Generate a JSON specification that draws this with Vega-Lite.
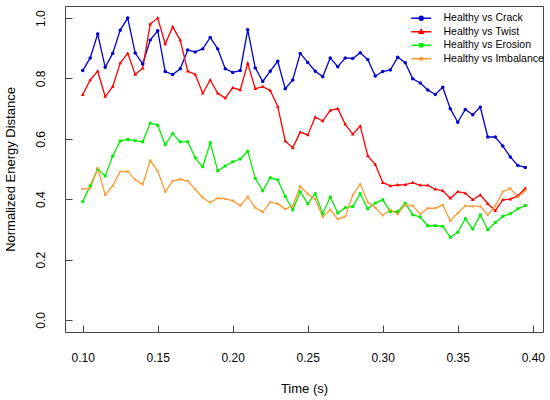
{
  "$schema": "https://vega.github.io/schema/vega-lite/v6.json",
  "width": 478,
  "height": 326,
  "autosize": {"type": "none"},
  "padding": {"left": 65, "top": 6, "right": 7, "bottom": 68},
  "data": {"values": [
    {"t":0.1,"s":"Healthy vs Crack","v":0.826},{"t":0.105,"s":"Healthy vs Crack","v":0.868},{"t":0.11,"s":"Healthy vs Crack","v":0.947},{"t":0.115,"s":"Healthy vs Crack","v":0.837},{"t":0.12,"s":"Healthy vs Crack","v":0.883},{"t":0.125,"s":"Healthy vs Crack","v":0.960},{"t":0.13,"s":"Healthy vs Crack","v":1.000},{"t":0.135,"s":"Healthy vs Crack","v":0.884},{"t":0.14,"s":"Healthy vs Crack","v":0.848},{"t":0.145,"s":"Healthy vs Crack","v":0.927},
    {"t":0.15,"s":"Healthy vs Crack","v":0.958},{"t":0.155,"s":"Healthy vs Crack","v":0.823},{"t":0.16,"s":"Healthy vs Crack","v":0.813},{"t":0.165,"s":"Healthy vs Crack","v":0.832},{"t":0.17,"s":"Healthy vs Crack","v":0.894},{"t":0.175,"s":"Healthy vs Crack","v":0.888},{"t":0.18,"s":"Healthy vs Crack","v":0.898},{"t":0.185,"s":"Healthy vs Crack","v":0.936},{"t":0.19,"s":"Healthy vs Crack","v":0.898},{"t":0.195,"s":"Healthy vs Crack","v":0.832},
    {"t":0.2,"s":"Healthy vs Crack","v":0.820},{"t":0.205,"s":"Healthy vs Crack","v":0.826},{"t":0.21,"s":"Healthy vs Crack","v":0.961},{"t":0.215,"s":"Healthy vs Crack","v":0.835},{"t":0.22,"s":"Healthy vs Crack","v":0.790},{"t":0.225,"s":"Healthy vs Crack","v":0.824},{"t":0.23,"s":"Healthy vs Crack","v":0.857},{"t":0.235,"s":"Healthy vs Crack","v":0.766},{"t":0.24,"s":"Healthy vs Crack","v":0.795},{"t":0.245,"s":"Healthy vs Crack","v":0.883},
    {"t":0.25,"s":"Healthy vs Crack","v":0.853},{"t":0.255,"s":"Healthy vs Crack","v":0.824},{"t":0.26,"s":"Healthy vs Crack","v":0.806},{"t":0.265,"s":"Healthy vs Crack","v":0.868},{"t":0.27,"s":"Healthy vs Crack","v":0.839},{"t":0.275,"s":"Healthy vs Crack","v":0.868},{"t":0.28,"s":"Healthy vs Crack","v":0.866},{"t":0.285,"s":"Healthy vs Crack","v":0.885},{"t":0.29,"s":"Healthy vs Crack","v":0.863},{"t":0.295,"s":"Healthy vs Crack","v":0.808},
    {"t":0.3,"s":"Healthy vs Crack","v":0.823},{"t":0.305,"s":"Healthy vs Crack","v":0.828},{"t":0.31,"s":"Healthy vs Crack","v":0.870},{"t":0.315,"s":"Healthy vs Crack","v":0.852},{"t":0.32,"s":"Healthy vs Crack","v":0.799},{"t":0.325,"s":"Healthy vs Crack","v":0.785},{"t":0.33,"s":"Healthy vs Crack","v":0.762},{"t":0.335,"s":"Healthy vs Crack","v":0.747},{"t":0.34,"s":"Healthy vs Crack","v":0.771},{"t":0.345,"s":"Healthy vs Crack","v":0.700},
    {"t":0.35,"s":"Healthy vs Crack","v":0.655},{"t":0.355,"s":"Healthy vs Crack","v":0.697},{"t":0.36,"s":"Healthy vs Crack","v":0.680},{"t":0.365,"s":"Healthy vs Crack","v":0.705},{"t":0.37,"s":"Healthy vs Crack","v":0.606},{"t":0.375,"s":"Healthy vs Crack","v":0.606},{"t":0.38,"s":"Healthy vs Crack","v":0.576},{"t":0.385,"s":"Healthy vs Crack","v":0.540},{"t":0.39,"s":"Healthy vs Crack","v":0.512},{"t":0.395,"s":"Healthy vs Crack","v":0.505},

    {"t":0.1,"s":"Healthy vs Twist","v":0.746},{"t":0.105,"s":"Healthy vs Twist","v":0.795},{"t":0.11,"s":"Healthy vs Twist","v":0.824},{"t":0.115,"s":"Healthy vs Twist","v":0.740},{"t":0.12,"s":"Healthy vs Twist","v":0.773},{"t":0.125,"s":"Healthy vs Twist","v":0.851},{"t":0.13,"s":"Healthy vs Twist","v":0.883},{"t":0.135,"s":"Healthy vs Twist","v":0.813},{"t":0.14,"s":"Healthy vs Twist","v":0.834},{"t":0.145,"s":"Healthy vs Twist","v":0.980},
    {"t":0.15,"s":"Healthy vs Twist","v":1.000},{"t":0.155,"s":"Healthy vs Twist","v":0.914},{"t":0.16,"s":"Healthy vs Twist","v":0.971},{"t":0.165,"s":"Healthy vs Twist","v":0.927},{"t":0.17,"s":"Healthy vs Twist","v":0.824},{"t":0.175,"s":"Healthy vs Twist","v":0.813},{"t":0.18,"s":"Healthy vs Twist","v":0.751},{"t":0.185,"s":"Healthy vs Twist","v":0.795},{"t":0.19,"s":"Healthy vs Twist","v":0.751},{"t":0.195,"s":"Healthy vs Twist","v":0.735},
    {"t":0.2,"s":"Healthy vs Twist","v":0.769},{"t":0.205,"s":"Healthy vs Twist","v":0.762},{"t":0.21,"s":"Healthy vs Twist","v":0.850},{"t":0.215,"s":"Healthy vs Twist","v":0.766},{"t":0.22,"s":"Healthy vs Twist","v":0.773},{"t":0.225,"s":"Healthy vs Twist","v":0.760},{"t":0.23,"s":"Healthy vs Twist","v":0.707},{"t":0.235,"s":"Healthy vs Twist","v":0.593},{"t":0.24,"s":"Healthy vs Twist","v":0.570},{"t":0.245,"s":"Healthy vs Twist","v":0.622},
    {"t":0.25,"s":"Healthy vs Twist","v":0.613},{"t":0.255,"s":"Healthy vs Twist","v":0.672},{"t":0.26,"s":"Healthy vs Twist","v":0.659},{"t":0.265,"s":"Healthy vs Twist","v":0.694},{"t":0.27,"s":"Healthy vs Twist","v":0.700},{"t":0.275,"s":"Healthy vs Twist","v":0.648},{"t":0.28,"s":"Healthy vs Twist","v":0.615},{"t":0.285,"s":"Healthy vs Twist","v":0.642},{"t":0.29,"s":"Healthy vs Twist","v":0.544},{"t":0.295,"s":"Healthy vs Twist","v":0.515},
    {"t":0.3,"s":"Healthy vs Twist","v":0.455},{"t":0.305,"s":"Healthy vs Twist","v":0.444},{"t":0.31,"s":"Healthy vs Twist","v":0.447},{"t":0.315,"s":"Healthy vs Twist","v":0.448},{"t":0.32,"s":"Healthy vs Twist","v":0.455},{"t":0.325,"s":"Healthy vs Twist","v":0.446},{"t":0.33,"s":"Healthy vs Twist","v":0.446},{"t":0.335,"s":"Healthy vs Twist","v":0.433},{"t":0.34,"s":"Healthy vs Twist","v":0.428},{"t":0.345,"s":"Healthy vs Twist","v":0.403},
    {"t":0.35,"s":"Healthy vs Twist","v":0.425},{"t":0.355,"s":"Healthy vs Twist","v":0.420},{"t":0.36,"s":"Healthy vs Twist","v":0.398},{"t":0.365,"s":"Healthy vs Twist","v":0.414},{"t":0.37,"s":"Healthy vs Twist","v":0.385},{"t":0.375,"s":"Healthy vs Twist","v":0.362},{"t":0.38,"s":"Healthy vs Twist","v":0.398},{"t":0.385,"s":"Healthy vs Twist","v":0.400},{"t":0.39,"s":"Healthy vs Twist","v":0.411},{"t":0.395,"s":"Healthy vs Twist","v":0.436},

    {"t":0.1,"s":"Healthy vs Erosion","v":0.392},{"t":0.105,"s":"Healthy vs Erosion","v":0.445},{"t":0.11,"s":"Healthy vs Erosion","v":0.500},{"t":0.115,"s":"Healthy vs Erosion","v":0.477},{"t":0.12,"s":"Healthy vs Erosion","v":0.543},{"t":0.125,"s":"Healthy vs Erosion","v":0.593},{"t":0.13,"s":"Healthy vs Erosion","v":0.598},{"t":0.135,"s":"Healthy vs Erosion","v":0.594},{"t":0.14,"s":"Healthy vs Erosion","v":0.590},{"t":0.145,"s":"Healthy vs Erosion","v":0.652},
    {"t":0.15,"s":"Healthy vs Erosion","v":0.645},{"t":0.155,"s":"Healthy vs Erosion","v":0.581},{"t":0.16,"s":"Healthy vs Erosion","v":0.617},{"t":0.165,"s":"Healthy vs Erosion","v":0.590},{"t":0.17,"s":"Healthy vs Erosion","v":0.590},{"t":0.175,"s":"Healthy vs Erosion","v":0.537},{"t":0.18,"s":"Healthy vs Erosion","v":0.507},{"t":0.185,"s":"Healthy vs Erosion","v":0.587},{"t":0.19,"s":"Healthy vs Erosion","v":0.494},{"t":0.195,"s":"Healthy vs Erosion","v":0.510},
    {"t":0.2,"s":"Healthy vs Erosion","v":0.524},{"t":0.205,"s":"Healthy vs Erosion","v":0.533},{"t":0.21,"s":"Healthy vs Erosion","v":0.559},{"t":0.215,"s":"Healthy vs Erosion","v":0.469},{"t":0.22,"s":"Healthy vs Erosion","v":0.428},{"t":0.225,"s":"Healthy vs Erosion","v":0.471},{"t":0.23,"s":"Healthy vs Erosion","v":0.464},{"t":0.235,"s":"Healthy vs Erosion","v":0.409},{"t":0.24,"s":"Healthy vs Erosion","v":0.365},{"t":0.245,"s":"Healthy vs Erosion","v":0.425},
    {"t":0.25,"s":"Healthy vs Erosion","v":0.385},{"t":0.255,"s":"Healthy vs Erosion","v":0.418},{"t":0.26,"s":"Healthy vs Erosion","v":0.352},{"t":0.265,"s":"Healthy vs Erosion","v":0.407},{"t":0.27,"s":"Healthy vs Erosion","v":0.354},{"t":0.275,"s":"Healthy vs Erosion","v":0.372},{"t":0.28,"s":"Healthy vs Erosion","v":0.376},{"t":0.285,"s":"Healthy vs Erosion","v":0.418},{"t":0.29,"s":"Healthy vs Erosion","v":0.368},{"t":0.295,"s":"Healthy vs Erosion","v":0.387},
    {"t":0.3,"s":"Healthy vs Erosion","v":0.398},{"t":0.305,"s":"Healthy vs Erosion","v":0.359},{"t":0.31,"s":"Healthy vs Erosion","v":0.359},{"t":0.315,"s":"Healthy vs Erosion","v":0.387},{"t":0.32,"s":"Healthy vs Erosion","v":0.348},{"t":0.325,"s":"Healthy vs Erosion","v":0.341},{"t":0.33,"s":"Healthy vs Erosion","v":0.312},{"t":0.335,"s":"Healthy vs Erosion","v":0.312},{"t":0.34,"s":"Healthy vs Erosion","v":0.310},{"t":0.345,"s":"Healthy vs Erosion","v":0.274},
    {"t":0.35,"s":"Healthy vs Erosion","v":0.290},{"t":0.355,"s":"Healthy vs Erosion","v":0.335},{"t":0.36,"s":"Healthy vs Erosion","v":0.301},{"t":0.365,"s":"Healthy vs Erosion","v":0.348},{"t":0.37,"s":"Healthy vs Erosion","v":0.299},{"t":0.375,"s":"Healthy vs Erosion","v":0.323},{"t":0.38,"s":"Healthy vs Erosion","v":0.343},{"t":0.385,"s":"Healthy vs Erosion","v":0.352},{"t":0.39,"s":"Healthy vs Erosion","v":0.368},{"t":0.395,"s":"Healthy vs Erosion","v":0.379},

    {"t":0.1,"s":"Healthy vs Imbalance","v":0.434},{"t":0.105,"s":"Healthy vs Imbalance","v":0.436},{"t":0.11,"s":"Healthy vs Imbalance","v":0.502},{"t":0.115,"s":"Healthy vs Imbalance","v":0.414},{"t":0.12,"s":"Healthy vs Imbalance","v":0.444},{"t":0.125,"s":"Healthy vs Imbalance","v":0.491},{"t":0.13,"s":"Healthy vs Imbalance","v":0.492},{"t":0.135,"s":"Healthy vs Imbalance","v":0.464},{"t":0.14,"s":"Healthy vs Imbalance","v":0.449},{"t":0.145,"s":"Healthy vs Imbalance","v":0.528},
    {"t":0.15,"s":"Healthy vs Imbalance","v":0.493},{"t":0.155,"s":"Healthy vs Imbalance","v":0.424},{"t":0.16,"s":"Healthy vs Imbalance","v":0.460},{"t":0.165,"s":"Healthy vs Imbalance","v":0.466},{"t":0.17,"s":"Healthy vs Imbalance","v":0.460},{"t":0.175,"s":"Healthy vs Imbalance","v":0.433},{"t":0.18,"s":"Healthy vs Imbalance","v":0.405},{"t":0.185,"s":"Healthy vs Imbalance","v":0.389},{"t":0.19,"s":"Healthy vs Imbalance","v":0.403},{"t":0.195,"s":"Healthy vs Imbalance","v":0.401},
    {"t":0.2,"s":"Healthy vs Imbalance","v":0.395},{"t":0.205,"s":"Healthy vs Imbalance","v":0.378},{"t":0.21,"s":"Healthy vs Imbalance","v":0.408},{"t":0.215,"s":"Healthy vs Imbalance","v":0.372},{"t":0.22,"s":"Healthy vs Imbalance","v":0.357},{"t":0.225,"s":"Healthy vs Imbalance","v":0.390},{"t":0.23,"s":"Healthy vs Imbalance","v":0.385},{"t":0.235,"s":"Healthy vs Imbalance","v":0.367},{"t":0.24,"s":"Healthy vs Imbalance","v":0.378},{"t":0.245,"s":"Healthy vs Imbalance","v":0.443},
    {"t":0.25,"s":"Healthy vs Imbalance","v":0.417},{"t":0.255,"s":"Healthy vs Imbalance","v":0.400},{"t":0.26,"s":"Healthy vs Imbalance","v":0.341},{"t":0.265,"s":"Healthy vs Imbalance","v":0.365},{"t":0.27,"s":"Healthy vs Imbalance","v":0.334},{"t":0.275,"s":"Healthy vs Imbalance","v":0.343},{"t":0.28,"s":"Healthy vs Imbalance","v":0.414},{"t":0.285,"s":"Healthy vs Imbalance","v":0.450},{"t":0.29,"s":"Healthy vs Imbalance","v":0.390},{"t":0.295,"s":"Healthy vs Imbalance","v":0.372},
    {"t":0.3,"s":"Healthy vs Imbalance","v":0.346},{"t":0.305,"s":"Healthy vs Imbalance","v":0.365},{"t":0.31,"s":"Healthy vs Imbalance","v":0.351},{"t":0.315,"s":"Healthy vs Imbalance","v":0.381},{"t":0.32,"s":"Healthy vs Imbalance","v":0.378},{"t":0.325,"s":"Healthy vs Imbalance","v":0.351},{"t":0.33,"s":"Healthy vs Imbalance","v":0.370},{"t":0.335,"s":"Healthy vs Imbalance","v":0.370},{"t":0.34,"s":"Healthy vs Imbalance","v":0.381},{"t":0.345,"s":"Healthy vs Imbalance","v":0.328},
    {"t":0.35,"s":"Healthy vs Imbalance","v":0.354},{"t":0.355,"s":"Healthy vs Imbalance","v":0.378},{"t":0.36,"s":"Healthy vs Imbalance","v":0.376},{"t":0.365,"s":"Healthy vs Imbalance","v":0.376},{"t":0.37,"s":"Healthy vs Imbalance","v":0.348},{"t":0.375,"s":"Healthy vs Imbalance","v":0.378},{"t":0.38,"s":"Healthy vs Imbalance","v":0.425},{"t":0.385,"s":"Healthy vs Imbalance","v":0.436},{"t":0.39,"s":"Healthy vs Imbalance","v":0.407},{"t":0.395,"s":"Healthy vs Imbalance","v":0.428}
  ]},
  "encoding": {
    "x": {"field": "t", "type": "quantitative",
      "scale": {"domain": [0.0882, 0.4068], "nice": false, "zero": false},
      "axis": {"values": [0.1, 0.15, 0.2, 0.25, 0.3, 0.35, 0.4], "format": ".2f", "title": "Time (s)",
        "grid": false, "domain": false, "tickSize": -7, "labelPadding": 27, "titlePadding": 19}},
    "y": {"field": "v", "type": "quantitative",
      "scale": {"domain": [-0.04, 1.04], "nice": false, "zero": false},
      "axis": {"values": [0, 0.2, 0.4, 0.6, 0.8, 1], "format": ".1f", "title": "Normalized Energy Distance",
        "grid": false, "domain": false, "tickSize": -7, "labelAngle": -90, "labelAlign": "center",
        "labelBaseline": "bottom", "labelPadding": 25, "titlePadding": 17}},
    "color": {"field": "s", "type": "nominal",
      "scale": {"domain": ["Healthy vs Crack", "Healthy vs Twist", "Healthy vs Erosion", "Healthy vs Imbalance"],
        "range": ["#0000cd", "#ff0000", "#00ee00", "#ff9933"]},
      "legend": {"title": null}}
  },
  "layer": [
    {"mark": {"type": "line", "strokeWidth": 1.3}},
    {"mark": {"type": "point", "filled": true, "opacity": 1, "size": 12},
      "encoding": {
        "shape": {"field": "s", "type": "nominal",
          "scale": {"domain": ["Healthy vs Crack", "Healthy vs Twist", "Healthy vs Erosion", "Healthy vs Imbalance"],
            "range": [
              "M-1,0A1,1,0,1,1,1,0A1,1,0,1,1,-1,0ZM-5,0H5",
              "M0,-1.15L1.05,0.75H-1.05ZM-5,0H5",
              "M-0.85,-0.85H0.85V0.85H-0.85ZM-5,0H5",
              "M-0.7,0A0.7,0.7,0,1,1,0.7,0A0.7,0.7,0,1,1,-0.7,0ZM-5,0H5"]},
          "legend": {"title": null}}
      }}
  ],
  "config": {
    "font": "Liberation Sans",
    "view": {"stroke": "#444444", "strokeWidth": 1},
    "axis": {"labelFontSize": 12, "labelColor": "#000000", "titleFontSize": 13, "titleFontWeight": "normal",
      "titleColor": "#000000", "tickColor": "#444444", "tickWidth": 1},
    "legend": {"orient": "none", "legendX": 351, "legendY": 7, "padding": 0, "labelFontSize": 10.5, "labelColor": "#000000",
      "symbolSize": 16, "labelOffset": 17, "rowPadding": 2.5, "symbolStrokeWidth": 1.3,
      "symbolFillColor": null}
  }
}
